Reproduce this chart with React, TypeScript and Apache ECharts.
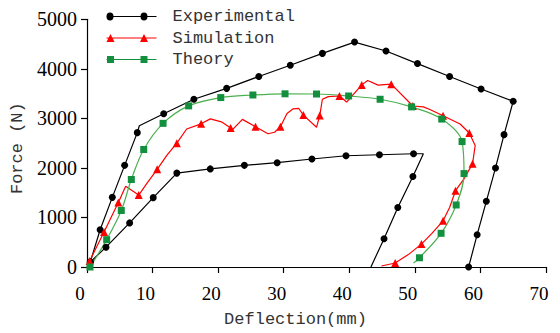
import React, { useEffect, useRef } from "react";
import * as echarts from "echarts";

// ---- data ----
const xTicks = [0, 10, 20, 30, 40, 50, 60, 70];
const yTicks = [0, 1000, 2000, 3000, 4000, 5000];

const expOuter: number[][] = [
  [0.5, 100], [2.0, 752], [3.86, 1406], [5.74, 2052], [7.67, 2712], [7.98, 2852],
  [11.7, 3092], [16.3, 3386], [21.3, 3606], [26.2, 3846], [31.0, 4072], [35.9, 4312],
  [40.8, 4540], [45.6, 4360], [50.4, 4106], [55.3, 3846], [60.1, 3592], [65.0, 3346],
  [63.6, 2672], [62.3, 2000], [60.9, 1326], [59.5, 652], [58.2, 0],
];
const expOuterUnmarked = [5];

const expInner: number[][] = [
  [0.5, 100], [2.9, 400], [6.5, 890], [10.1, 1400], [13.7, 1895], [18.8, 1980],
  [24.0, 2052], [29.0, 2106], [34.3, 2180], [39.5, 2246], [44.6, 2266], [49.8, 2286],
  [51.3, 2286], [49.7, 1826], [47.4, 1200], [45.3, 572], [43.3, 0],
];
const expInnerUnmarked = [12, 16];

const simulation: number[][] = [
  [0.4, 120], [2.6, 706], [4.78, 1300], [5.9, 1632], [7.88, 1452], [9.3, 1720],
  [10.7, 1972], [12.2, 2260], [13.7, 2500], [15.2, 2786], [17.4, 2890], [18.8, 2990],
  [20.5, 2930], [21.9, 2806], [22.2, 2772], [23.7, 2980], [25.7, 2830], [27.6, 2690],
  [28.6, 2720], [29.5, 2830], [30.5, 3100], [31.4, 3190], [32.3, 3200], [33.0, 3066],
  [35.0, 2820], [35.5, 3060], [35.9, 3386], [36.8, 3440], [38.5, 3452], [39.6, 3330],
  [41.9, 3676], [42.8, 3766], [44.4, 3672], [46.4, 3690], [49.7, 3250], [51.3, 3232],
  [52.3, 3180], [54.3, 3052], [56.9, 2886], [58.3, 2706], [59.2, 2452], [58.8, 2086],
  [57.6, 1800], [56.2, 1540], [55.3, 1200], [54.3, 932], [52.6, 680], [51.0, 462],
  [49.0, 250], [47.0, 80], [44.9, 20],
];
const simulationMarked = [0, 1, 2, 4, 6, 8, 10, 13, 16, 19, 23, 25, 28, 30, 33, 34, 37, 39, 41, 43, 45, 47, 49];

const theory: number[][] = [
  [0.46, 0], [3.0, 552], [5.23, 1140], [6.76, 1766], [8.65, 2372], [11.6, 2900],
  [15.5, 3252], [20.4, 3420], [25.3, 3472], [30.2, 3496], [35.0, 3492], [39.9, 3452],
  [44.7, 3386], [49.5, 3232], [54.1, 2986], [57.2, 2532], [57.5, 1886], [56.3, 1252],
  [54.0, 680], [50.7, 186], [49.8, 80],
];
const theoryUnmarked = [20];

const legendNames = ["Experimental", "Simulation", "Theory"];

// ---- helpers ----
const withMarks = (pts: number[][], isMarked: (i: number) => boolean) =>
  pts.map((p, i) => (isMarked(i) ? { value: p } : { value: p, symbol: "none" }));

const LINE = "M0 3.4H50V4.6H0Z";
const iconCircle =
  "path://" + LINE + "M0 4A3.5 4 0 1 1 7 4A3.5 4 0 1 1 0 4Z" + "M34 4A3.5 4 0 1 1 41 4A3.5 4 0 1 1 34 4Z";
const iconTriangle = "path://" + LINE + "M4 0L8 8H0Z" + "M37.5 0L41.5 8H33.5Z";
const iconSquare = "path://" + LINE + "M0.5 0.5H7.5V7.5H0.5Z" + "M34 0.5H41V7.5H34Z";

export default function App() {
  const ref = useRef<HTMLDivElement>(null);
  useEffect(() => {
    if (!ref.current) return;
    const chart = echarts.init(ref.current, null, { renderer: "svg" });
    const black = "#000000";
    const red = "#ff0000";
    const greenLine = "#4cb050";
    const greenMark = "#13903e";
    const mono = "Liberation Mono";
    const serif = "Liberation Serif";
    chart.setOption({
      animation: false,
      backgroundColor: "#ffffff",
      grid: { left: 87, right: 14, top: 19.3, bottom: 63.7, containLabel: false },
      legend: {
        orient: "vertical",
        left: 101.5,
        top: 3,
        itemGap: 4.5,
        itemWidth: 50,
        itemHeight: 8,
        textStyle: { fontFamily: mono, fontSize: 17, color: "#333", padding: [0, 0, 0, 11] },
        data: [
          { name: legendNames[0], icon: iconCircle, itemStyle: { color: black } },
          { name: legendNames[1], icon: iconTriangle, itemStyle: { color: red } },
          { name: legendNames[2], icon: iconSquare, itemStyle: { color: greenMark } },
        ],
      },
      xAxis: {
        type: "value",
        min: xTicks[0],
        max: xTicks[xTicks.length - 1],
        interval: xTicks[1] - xTicks[0],
        name: "Deflection(mm)",
        nameLocation: "middle",
        nameGap: 44,
        nameTextStyle: { fontFamily: mono, fontSize: 17, color: "#333", padding: [0, 42, 0, 0] },
        axisLine: { lineStyle: { color: black, width: 1.2 } },
        axisTick: { length: 6, lineStyle: { color: black, width: 1.2 } },
        axisLabel: {
          fontFamily: serif, fontSize: 19, color: black, margin: 17, padding: [0, 14, 0, 0],
          formatter: (v: number) => String(v),
        },
        splitLine: { show: false },
      },
      yAxis: {
        type: "value",
        min: yTicks[0],
        max: yTicks[yTicks.length - 1],
        interval: yTicks[1] - yTicks[0],
        name: "Force (N)",
        nameLocation: "middle",
        nameGap: 58,
        nameTextStyle: { fontFamily: mono, fontSize: 17, color: "#333", padding: [0, 10, 0, 0] },
        axisLine: { show: true, lineStyle: { color: black, width: 1.2 } },
        axisTick: { show: true, length: 6, lineStyle: { color: black, width: 1.2 } },
        axisLabel: {
          fontFamily: serif, fontSize: 20, color: black, margin: 10,
          formatter: (v: number) => String(v),
        },
        splitLine: { show: false },
      },
      series: [
        {
          name: legendNames[0],
          type: "line",
          data: withMarks(expOuter, (i) => !expOuterUnmarked.includes(i)),
          symbol: "circle",
          symbolSize: 7,
          lineStyle: { color: black, width: 1.2 },
          itemStyle: { color: black },
        },
        {
          name: legendNames[0],
          type: "line",
          data: withMarks(expInner, (i) => !expInnerUnmarked.includes(i)),
          symbol: "circle",
          symbolSize: 7,
          lineStyle: { color: black, width: 1.2 },
          itemStyle: { color: black },
        },
        {
          name: legendNames[1],
          type: "line",
          data: withMarks(simulation, (i) => simulationMarked.includes(i)),
          symbol: "triangle",
          symbolSize: 8,
          lineStyle: { color: red, width: 1.2 },
          itemStyle: { color: red },
        },
        {
          name: legendNames[2],
          type: "line",
          smooth: 0.35,
          data: withMarks(theory, (i) => !theoryUnmarked.includes(i)),
          symbol: "rect",
          symbolSize: 7,
          lineStyle: { color: greenLine, width: 1.2 },
          itemStyle: { color: greenMark },
        },
      ],
    });
    return () => chart.dispose();
  }, []);
  return (
    <div
      ref={ref}
      style={{ position: "fixed", left: 0, top: 0, width: 560, height: 333, background: "#fff" }}
    />
  );
}
